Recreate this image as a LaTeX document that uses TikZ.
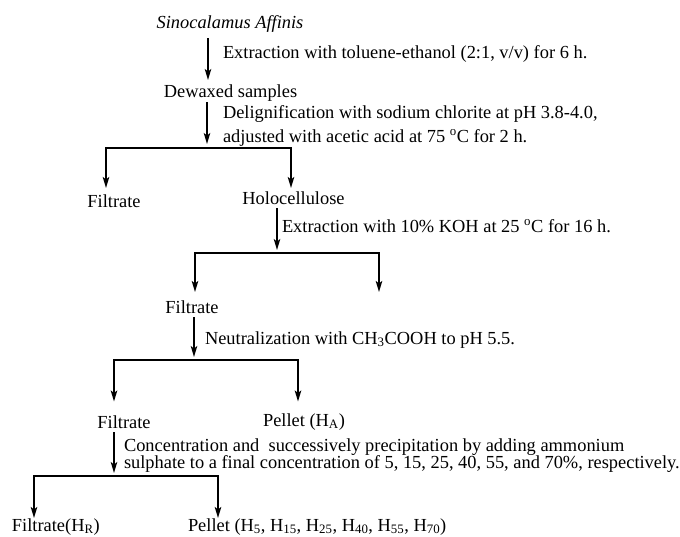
\documentclass[tikz,border=0pt]{standalone}
\usepackage{fontspec}
\setmainfont{Liberation Serif}
\usetikzlibrary{arrows.meta}
\begin{document}
\begin{tikzpicture}[x=1pt,y=-1pt,
  lbl/.style={inner sep=0pt,outer sep=0pt,text height=12.5pt,text depth=4pt,font=\fontsize{18.4}{20}\selectfont},
  arr/.style={line width=1.5pt,-{Stealth[length=11pt,width=6.5pt,inset=2.5pt]}},
  barline/.style={line width=2.2pt,line cap=rect},
  brarr/.style={line width=1.8pt,-{Stealth[length=11pt,width=6.5pt,inset=2.5pt]}}]
\useasboundingbox (0,0) rectangle (680,536);
% text nodes
\node[lbl,anchor=base,font=\fontsize{18.4}{20}\selectfont\itshape] (sino) at (230,28) {Sinocalamus Affinis};
\node[lbl,anchor=base west] (s1) at (223,58) {Extraction with toluene-ethanol (2:1, v/v) for 6 h.};
\node[lbl,anchor=base] (dew) at (230.5,97) {Dewaxed samples};
\node[lbl,anchor=base west] (s2a) at (223,118) {Delignification with sodium chlorite at pH 3.8-4.0,};
\node[lbl,anchor=base west] (s2b) at (223,142) {adjusted with acetic acid at 75 \textsuperscript{o}C for 2 h.};
\node[lbl,anchor=base] (filtA) at (114,207) {Filtrate};
\node[lbl,anchor=base] (holo) at (293.5,204) {Holocellulose};
\node[lbl,anchor=base west] (s3) at (282,232) {Extraction with 10\% KOH at 25 \textsuperscript{o}C for 16 h.};
\node[lbl,anchor=base] (filtB) at (192,313) {Filtrate};
\node[lbl,anchor=base west] (s4) at (205,344) {Neutralization with CH\textsubscript{3}COOH to pH 5.5.};
\node[lbl,anchor=base] (filtC) at (124,428) {Filtrate};
\node[lbl,anchor=base] (pelA) at (304,426) {Pellet (H\textsubscript{A})};
\node[lbl,anchor=base west] (s5a) at (124,451) {Concentration and~ successively precipitation by adding ammonium};
\node[lbl,anchor=base west] (s5b) at (124,468) {sulphate to a final concentration of 5, 15, 25, 40, 55, and 70\%, respectively.};
\node[lbl,anchor=base west] (filtR) at (12,531) {Filtrate(H\textsubscript{R})};
\node[lbl,anchor=base west] (pelH) at (188,531) {Pellet (H\textsubscript{5}, H\textsubscript{15}, H\textsubscript{25}, H\textsubscript{40}, H\textsubscript{55}, H\textsubscript{70})};
% junction coordinates
\coordinate (x1) at (208,0);
\coordinate (b1) at (207,148); \coordinate (b1l) at (106,148); \coordinate (b1r) at (291,148);
\coordinate (b2) at (277,253); \coordinate (b2l) at (195,253); \coordinate (b2r) at (379,253);
\coordinate (e2r) at (379,292);
\coordinate (b3) at (194,360); \coordinate (b3l) at (114,360); \coordinate (b3r) at (298,360);
\coordinate (b4) at (114,476); \coordinate (b4l) at (34,476); \coordinate (b4r) at (218,476);
% stage 1
\draw[arr,shorten <=6pt,shorten >=4.5pt] (sino.south -| x1) -- (dew.north -| x1);
% stage 2
\draw[arr,shorten <=1pt,shorten >=4pt] (dew.south -| b1) -- (b1);
\draw[barline] (b1l) -- (b1r);
\draw[brarr,shorten >=6.5pt] (b1l) -- (filtA.north -| b1l);
\draw[brarr,shorten >=3.5pt] (b1r) -- (holo.north -| b1r);
% stage 3
\draw[arr,shorten <=0pt,shorten >=3pt] (holo.south -| b2) -- (b2);
\draw[barline] (b2l) -- (b2r);
\draw[brarr,shorten >=8.5pt] (b2l) -- (filtB.north -| b2l);
\draw[brarr] (b2r) -- (e2r);
% stage 4
\draw[arr,shorten <=0pt,shorten >=3pt] (filtB.south -| b3) -- (b3);
\draw[barline] (b3l) -- (b3r);
\draw[brarr,shorten >=14pt] (b3l) -- (filtC.north -| b3l);
\draw[brarr,shorten >=12pt] (b3r) -- (pelA.north -| b3r);
% stage 5
\draw[arr,shorten <=0pt,shorten >=3pt] (filtC.south -| b4) -- (b4);
\draw[barline] (b4l) -- (b4r);
\draw[brarr,shorten >=0.5pt] (b4l) -- (filtR.north -| b4l);
\draw[brarr,shorten >=0.5pt] (b4r) -- (pelH.north -| b4r);
\end{tikzpicture}
\end{document}
